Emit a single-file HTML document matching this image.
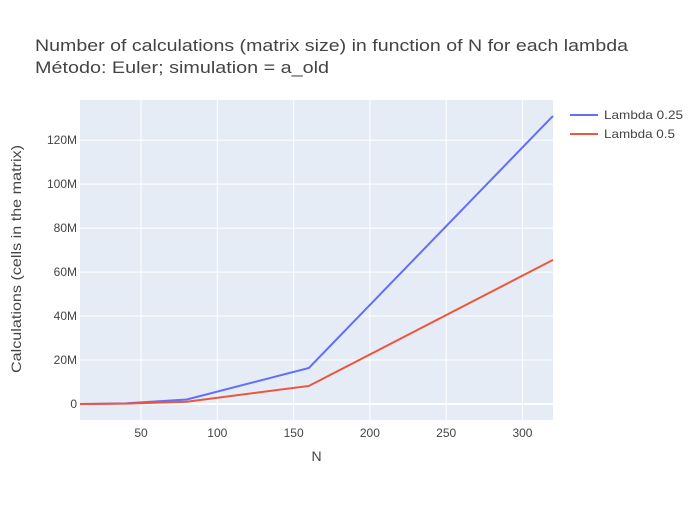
<!DOCTYPE html>
<html><head><meta charset="utf-8"><style>
body{margin:0;background:#fff;font-family:"Liberation Sans",Arial,sans-serif}
svg text{font-family:"Liberation Sans",Arial,sans-serif}
</style></head><body>
<svg id="chart" width="700" height="500" xmlns="http://www.w3.org/2000/svg">
<rect width="700" height="500" fill="#fff"/>
<rect x="80" y="100" width="473" height="320" fill="#e5ecf6"/>
<g id="grid"></g><g id="lines"></g><g id="ticks"></g>
<text x="35" y="51" font-size="17" fill="#444" textLength="593" lengthAdjust="spacingAndGlyphs">Number of calculations (matrix size) in function of N for each lambda</text>
<text x="35" y="73" font-size="17" fill="#444" textLength="294" lengthAdjust="spacingAndGlyphs">Método: Euler; simulation = a_old</text>
<text x="316.5" y="461" font-size="14" fill="#444" text-anchor="middle">N</text>
<text transform="translate(21,259) rotate(-90)" font-size="14" fill="#444" text-anchor="middle" textLength="228" lengthAdjust="spacingAndGlyphs">Calculations (cells in the matrix)</text>
<g>
<g><line x1="570" y1="115" x2="598" y2="115" stroke="#636efa" stroke-width="2"/><text x="604" y="119" font-size="12" fill="#444" textLength="79" lengthAdjust="spacingAndGlyphs">Lambda 0.25</text></g>
<g><line x1="570" y1="134" x2="598" y2="134" stroke="#ef553b" stroke-width="2"/><text x="604" y="138" font-size="12" fill="#444" textLength="71" lengthAdjust="spacingAndGlyphs">Lambda 0.5</text></g>
</g>
</svg>
<script>
const N=[10,20,40,80,160,320];
const lambda025=[4000,32000,256000,2048000,16384000,131072000];
const lambda05=[2000,16000,128000,1024000,8192000,65536000];
const xTicks=[50,100,150,200,250,300];
const yTicks=[0,20e6,40e6,60e6,80e6,100e6,120e6];
const yTickLabels=["0","20M","40M","60M","80M","100M","120M"];
const NS="http://www.w3.org/2000/svg";
const L=80,R=553,T=100,B=420,xmin=10,xmax=320,ymin=-7.3e6,ymax=138.3e6;
const sx=v=>L+(v-xmin)/(xmax-xmin)*(R-L);
const sy=v=>B-(v-ymin)/(ymax-ymin)*(B-T);
function mk(tag,at,parent){const e=document.createElementNS(NS,tag);for(const k in at)e.setAttribute(k,at[k]);document.getElementById(parent).appendChild(e);return e;}
xTicks.forEach(t=>{
 const g=mk('line',{x1:sx(t),x2:sx(t),y1:T,y2:B,stroke:'#fff','stroke-width':1},'grid');
 
 
 const tx=mk('text',{x:sx(t),y:B+17,'font-size':12,fill:'#444','text-anchor':'middle'},'ticks');
 tx.textContent=t;
 
 
});
yTicks.forEach((t,i)=>{
 const g=mk('line',{x1:L,x2:R,y1:sy(t),y2:sy(t),stroke:'#fff','stroke-width':t===0?2:1},'grid');
 
 
 const tx=mk('text',{x:L-3,y:sy(t)+4,'font-size':12,fill:'#444','text-anchor':'end'},'ticks');
 tx.textContent=yTickLabels[i];
 
 
});
[[lambda025,'#636efa','line-lambda-0.25'],[lambda05,'#ef553b','line-lambda-0.5']].forEach(([d,c,n])=>{
 const p=mk('polyline',{points:N.map((x,i)=>sx(x)+','+sy(d[i])).join(' '),fill:'none',stroke:c,'stroke-width':2},'lines');
 
 
});
</script>
</body></html>
